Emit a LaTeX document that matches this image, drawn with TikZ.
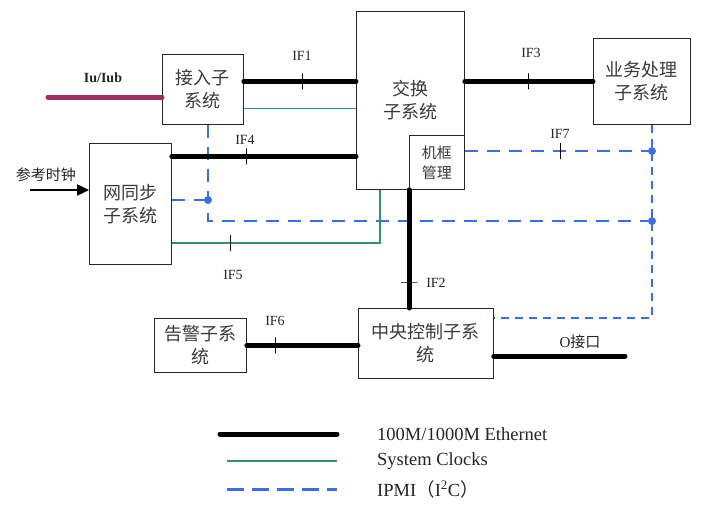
\documentclass[tikz,border=0pt]{standalone}
\usepackage{fontspec}
\setmainfont{Liberation Serif}
\newfontfamily\cjk{Noto Sans CJK SC}
\usetikzlibrary{arrows.meta}
\definecolor{iuc}{HTML}{9C2F5E}
\definecolor{clk}{HTML}{2E9466}
\definecolor{ipm}{HTML}{3C6FE6}
\definecolor{txt}{HTML}{3A3A3A}
\begin{document}
\begin{tikzpicture}[x=1pt,y=-1pt,
 box/.style={draw=black!85, line width=0.8pt, anchor=north west, inner sep=0pt, align=center, font=\cjk\fontsize{18}{23}\selectfont, text=txt},
 eth/.style={line width=5pt, line cap=round, black},
 clkl/.style={line width=1.6pt, clk},
 ipmi/.style={line width=2.2pt, ipm, dash pattern=on 13pt off 9pt},
 ipmit/.style={line width=1.2pt, ipm, dash pattern=on 8pt off 6pt},
 tickv/.style={draw=black, solid, line width=0.8pt, inner sep=0pt, minimum width=0pt, minimum height=16pt},
 tickh/.style={draw=black, solid, line width=0.8pt, inner sep=0pt, minimum width=16pt, minimum height=0pt},
 lbl/.style={font=\fontsize{14}{16}\selectfont, inner sep=0pt, text=black!85},
 dot/.style={circle, fill=ipm, inner sep=0pt, minimum size=8pt},
 leg/.style={anchor=west, inner sep=0pt, font=\fontsize{18.5}{20}\selectfont, text=black!85},
]
\fill[white] (0,0) rectangle (721,514);
\useasboundingbox (0,0) rectangle (721,514);

% boxes
\node[box, minimum width=81pt, minimum height=70pt] (jr) at (162,54) {接入子\\系统};
\node[box, minimum width=82pt, minimum height=121pt] (tb) at (89,143) {网同步\\子系统};
\node[box, minimum width=108pt, minimum height=178pt] (sw) at (356,11) {交换\\子系统};
\node[box, minimum width=55pt, minimum height=54pt, font=\cjk\fontsize{15}{20}\selectfont] (jk) at (409,135) {机框\\管理};
\node[box, minimum width=97pt, minimum height=86pt] (yw) at (593,38) {业务处理\\子系统};
\node[box, minimum width=135pt, minimum height=70pt] (zk) at (358,308) {中央控制子系\\统};
\node[box, minimum width=92pt, minimum height=54pt] (gj) at (154,318) {告警子系\\统};

% coordinates
\coordinate (d1) at (652,151);
\coordinate (d2) at (652,221);
\coordinate (d3) at (208,200);
\coordinate (c2) at (208,221);
\coordinate (c1) at (652,318);
\coordinate (g1) at (380,243);
\coordinate (o1) at (625,356);
\coordinate (iu) at (48,97);
\coordinate (ck) at (30,190);

% IPMI
\draw[ipmi] (d1 -| jk.east) -- node[tickv,pos=.51]{} (d1);
\draw[ipmit] (d1 |- yw.south) -- (c1) -- (c1 -| zk.east);
\draw[ipmi] (d3 |- jr.south) -- (c2) -- (d2);
\draw[ipmi] (d3 -| tb.east) -- (d3);
\foreach \p in {d1,d2,d3} \node[dot] at (\p) {};

% clocks
\draw[clkl] ([yshift=-19pt]jr.east) -- ([yshift=-19pt]jr.east -| sw.west);
\draw[clkl] (tb.east |- g1) -- node[tickv,pos=.28]{} (g1) -- (g1 |- sw.south);

% ethernet
\draw[eth] (yw.west -| jr.east) -- node[tickv,pos=.52]{} (yw.west -| sw.west);
\draw[eth] ([yshift=47.5pt]tb.east) -- node[tickv,pos=.405]{} ([yshift=47.5pt]tb.east -| sw.west);
\draw[eth] (yw.west -| sw.east) -- node[tickv,pos=.496]{} (yw.west);
\draw[eth] (jk.south west) -- node[tickh,pos=.78]{} (jk.south west |- zk.north);
\draw[eth] (gj.east) -- node[tickv,pos=.26]{} (gj.east -| zk.west);
\draw[eth] (zk.east |- o1) -- (o1);
\draw[line width=5pt, iuc, line cap=round] (iu) -- (iu -| jr.west);
\draw[line width=2.4pt, -{Triangle[length=12pt,width=11pt]}] (ck) -- (ck -| tb.west);

% labels
\node[lbl] at (302,56) {IF1};
\node[lbl] at (245,140) {IF4};
\node[lbl] at (531,53) {IF3};
\node[lbl] at (560,134) {IF7};
\node[lbl] at (233,275) {IF5};
\node[lbl] at (436,283) {IF2};
\node[lbl] at (275,321) {IF6};
\node[lbl, font=\fontsize{15}{17}\selectfont] at (580,342) {O{\cjk 接口}};
\node[lbl, font=\bfseries\fontsize{14}{16}\selectfont] at (103,78) {Iu/Iub};
\node[lbl, font=\cjk\fontsize{15}{17}\selectfont] at (46,175) {参考时钟};

% legend
\coordinate (la1) at (220,434); \coordinate (la2) at (337,434);
\coordinate (lb1) at (227,461); \coordinate (lb2) at (337,461);
\coordinate (lc1) at (227,489); \coordinate (lc2) at (337,489);
\draw[eth] (la1) -- (la2);
\draw[line width=2pt, clk] (lb1) -- (lb2);
\draw[line width=3pt, ipm, dash pattern=on 17pt off 8pt] (lc1) -- (lc2);
\node[leg] at (377,434) {100M/1000M Ethernet};
\node[leg] at (377,461) {System Clocks};
\node[leg] at (377,489) {IPMI{\cjk （}I\textsuperscript{2}C{\cjk ）}};
\end{tikzpicture}
\end{document}
